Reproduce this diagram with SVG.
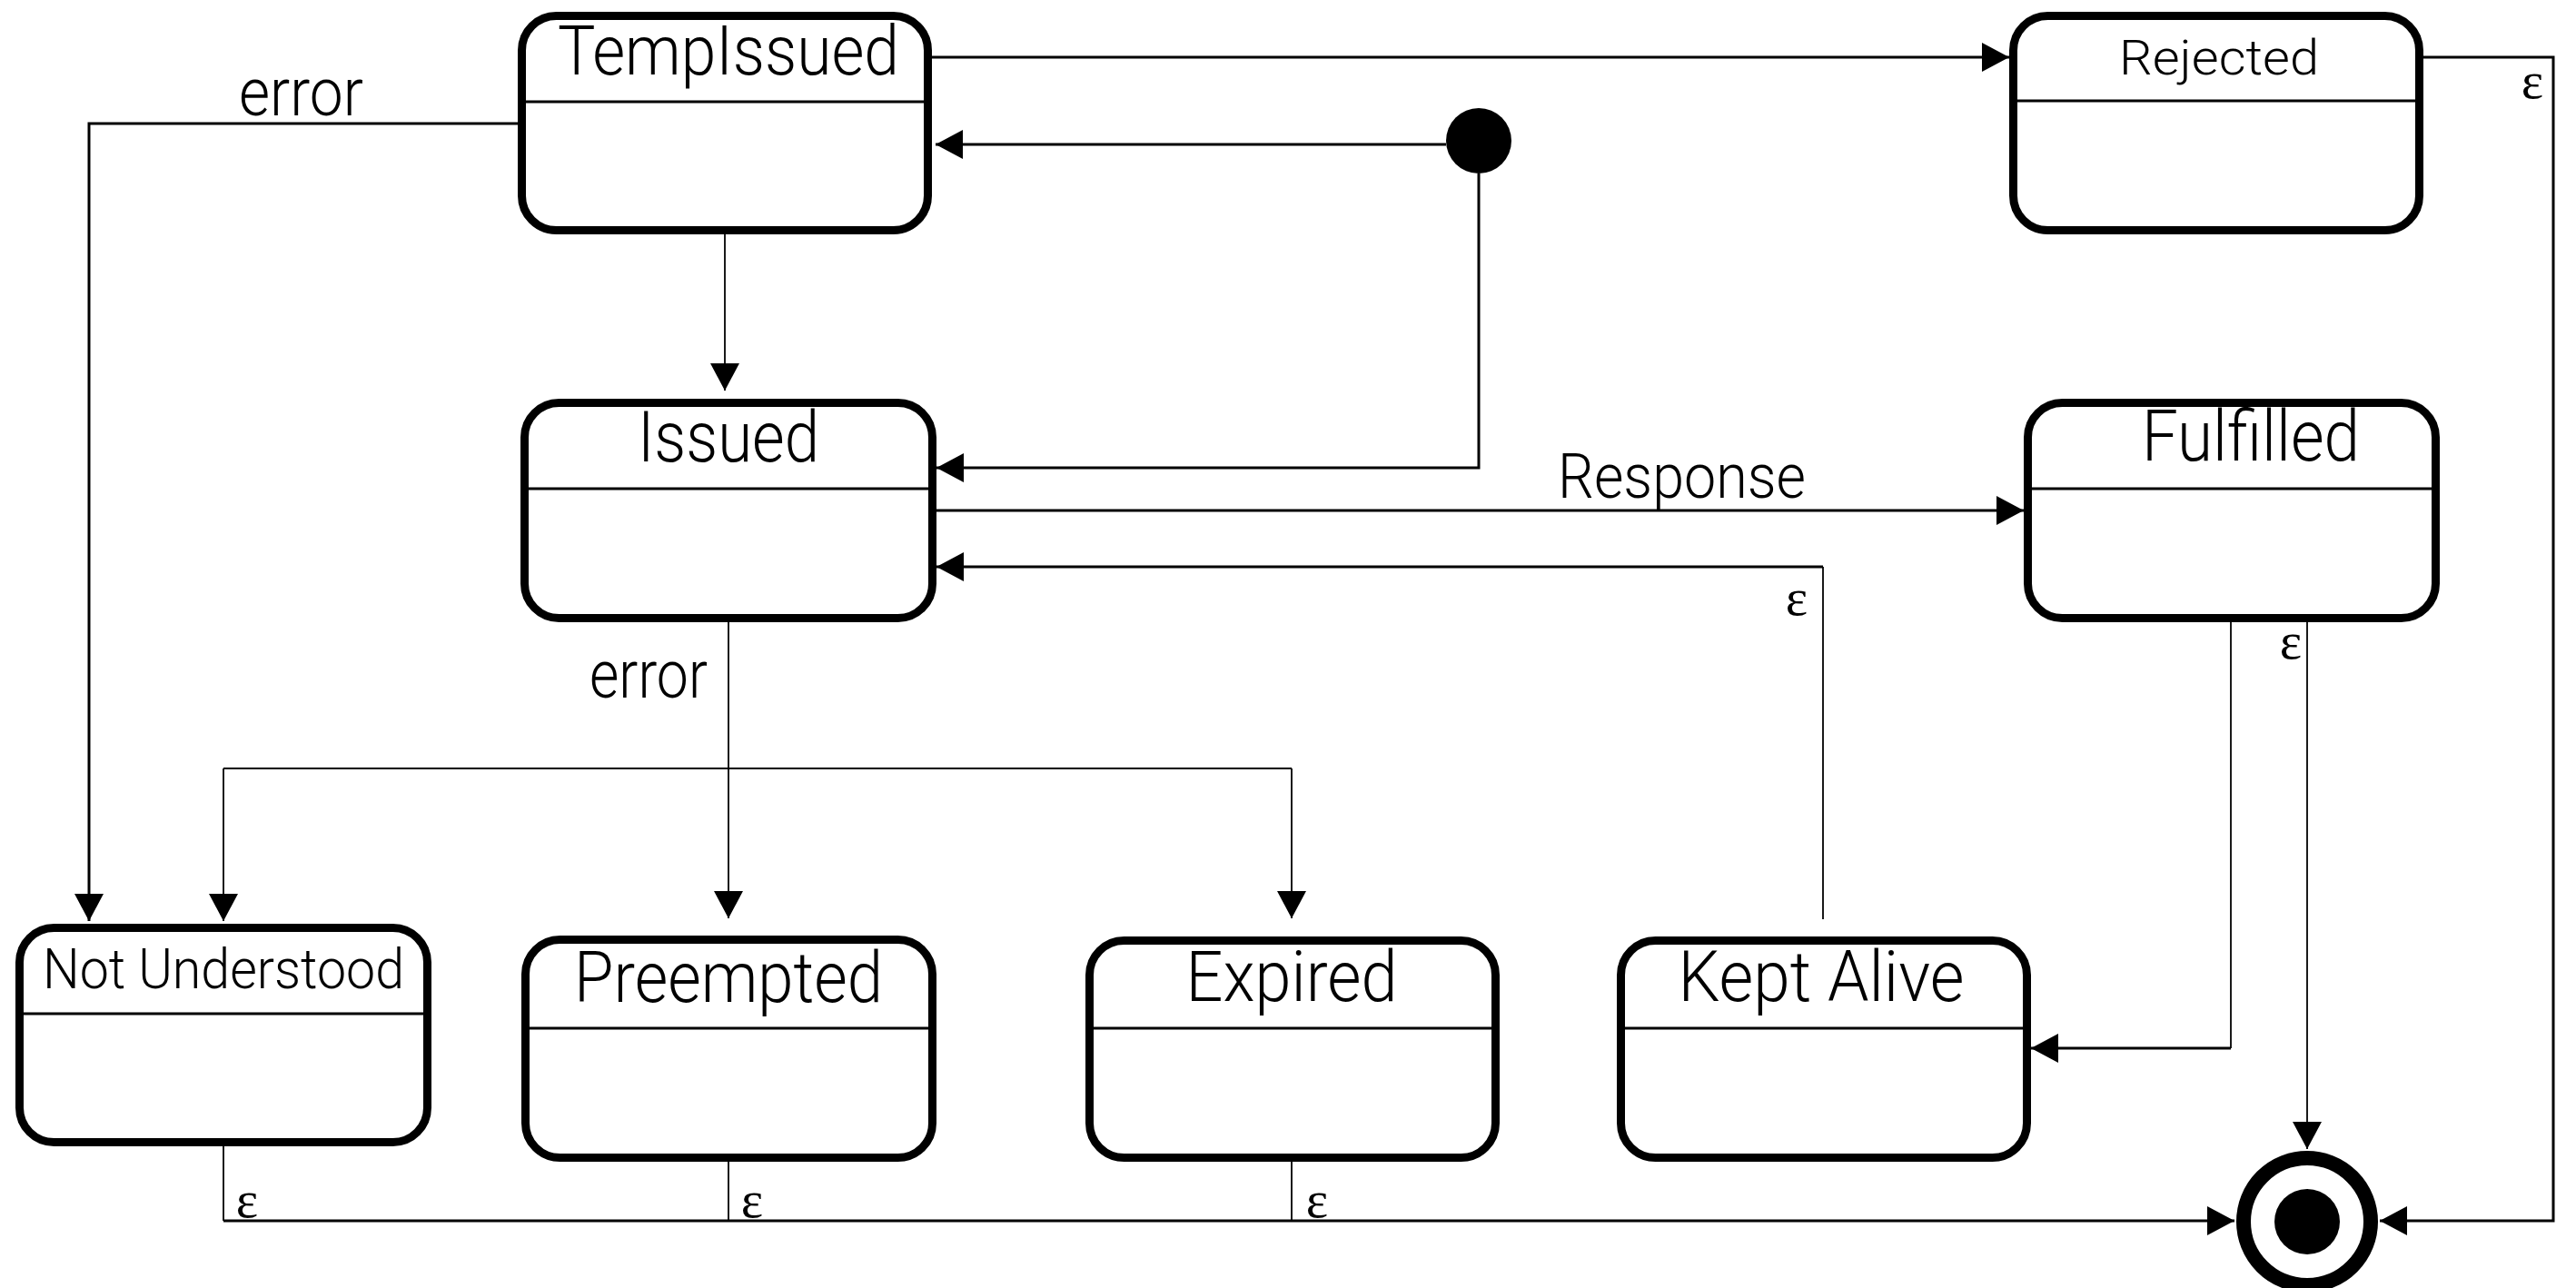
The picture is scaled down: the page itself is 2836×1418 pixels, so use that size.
<svg xmlns="http://www.w3.org/2000/svg" width="2836" height="1418" viewBox="0 0 2836 1418">
<style>
.box{fill:#fff;stroke:#000;stroke-width:9}
.div{stroke:#000;stroke-width:3}
.t{font-family:Roboto,"Liberation Sans",Arial,sans-serif;font-weight:300;text-anchor:middle;fill:#000}
.lbl{font-family:Roboto,"Liberation Sans",Arial,sans-serif;font-weight:300;fill:#000}
.eps{font-family:"Liberation Serif","Times New Roman",serif;font-size:58px;fill:#000;text-anchor:middle}
.thick{fill:none;stroke:#000;stroke-width:3}
.thin{fill:none;stroke:#000;stroke-width:1.8}
</style>
<defs>
<marker id="arr" markerUnits="userSpaceOnUse" markerWidth="30" markerHeight="32" refX="30" refY="16" orient="auto" viewBox="0 0 30 32">
<path d="M0,0 L30,16 L0,32 z" fill="#000"/>
</marker>
</defs>
<rect width="2836" height="1418" fill="#fff"/>

<g id="connectors">
<path class="thick" d="M1026,63 H2212" marker-end="url(#arr)"/>
<path class="thick" d="M1592,159 H1030" marker-end="url(#arr)"/>
<path class="thick" d="M1628,191 V515 H1031" marker-end="url(#arr)"/>
<path class="thin" d="M798,258 V430" marker-end="url(#arr)"/>
<path class="thick" d="M570,136 H98 V1014" marker-end="url(#arr)"/>
<text class="lbl" x="263" y="127" font-size="74" textLength="137" lengthAdjust="spacingAndGlyphs">error</text>
<path class="thick" d="M1031,562 H2228" marker-end="url(#arr)"/>
<text class="lbl" x="1715" y="548" font-size="68" textLength="273" lengthAdjust="spacingAndGlyphs">Response</text>
<path class="thin" d="M2007,1012 V624"/>
<path class="thick" d="M2007,624 H1031" marker-end="url(#arr)"/>
<text class="eps" x="1978" y="677">ε</text>
<path class="thin" d="M2540,685 V1265" marker-end="url(#arr)"/>
<text class="eps" x="2522" y="725">ε</text>
<path class="thin" d="M2456,685 V1154"/>
<path class="thick" d="M2456,1154 H2236" marker-end="url(#arr)"/>
<path class="thin" d="M802,685 V1011" marker-end="url(#arr)"/>
<path class="thin" d="M246,846 H1422"/>
<path class="thin" d="M246,846 V1014" marker-end="url(#arr)"/>
<path class="thin" d="M1422,846 V1011" marker-end="url(#arr)"/>
<text class="lbl" x="649" y="768" font-size="74" textLength="130" lengthAdjust="spacingAndGlyphs">error</text>
<path class="thin" d="M246,1262 V1344"/>
<path class="thin" d="M802,1279 V1344"/>
<path class="thin" d="M1422,1279 V1344"/>
<path class="thick" d="M246,1344 H2460" marker-end="url(#arr)"/>
<text class="eps" x="272" y="1340">ε</text>
<text class="eps" x="828" y="1340">ε</text>
<text class="eps" x="1450" y="1340">ε</text>
<path class="thick" d="M2668,63 H2811 V1344 H2620" marker-end="url(#arr)"/>
<text class="eps" x="2788" y="108">ε</text>
</g>

<g id="initial">
<circle cx="1628" cy="155" r="36" fill="#000"/>
</g>

<g id="final">
<circle cx="2540" cy="1345" r="70" fill="#fff" stroke="#000" stroke-width="16"/>
<circle cx="2540" cy="1345" r="36" fill="#000"/>
</g>

<g id="TempIssued">
<rect class="box" x="574.5" y="17.5" width="447" height="236" rx="38"/>
<line class="div" x1="575" y1="112" x2="1022" y2="112"/>
<text class="t" x="802" y="82" font-size="76" textLength="376" lengthAdjust="spacingAndGlyphs">TempIssued</text>
</g>

<g id="Rejected">
<rect class="box" x="2216.5" y="17.5" width="447" height="236" rx="38"/>
<line class="div" x1="2217" y1="111" x2="2664" y2="111"/>
<text class="t" x="2443" y="82" font-size="53" textLength="220" lengthAdjust="spacingAndGlyphs">Rejected</text>
</g>

<g id="Issued">
<rect class="box" x="577.5" y="443.5" width="449" height="237" rx="38"/>
<line class="div" x1="578" y1="538" x2="1027" y2="538"/>
<text class="t" x="802" y="508" font-size="78" textLength="200" lengthAdjust="spacingAndGlyphs">Issued</text>
</g>

<g id="Fulfilled">
<rect class="box" x="2232.5" y="443.5" width="449" height="237" rx="38"/>
<line class="div" x1="2233" y1="538" x2="2682" y2="538"/>
<text class="t" x="2478" y="507" font-size="78" textLength="240" lengthAdjust="spacingAndGlyphs">Fulfilled</text>
</g>

<g id="NotUnderstood">
<rect class="box" x="21.5" y="1021.5" width="449" height="236" rx="38"/>
<line class="div" x1="22" y1="1116" x2="470" y2="1116"/>
<text class="t" x="246" y="1088" font-size="62" textLength="398" lengthAdjust="spacingAndGlyphs">Not Understood</text>
</g>

<g id="Preempted">
<rect class="box" x="578.5" y="1034.5" width="448" height="240" rx="38"/>
<line class="div" x1="579" y1="1132" x2="1026" y2="1132"/>
<text class="t" x="802" y="1103" font-size="78" textLength="340" lengthAdjust="spacingAndGlyphs">Preempted</text>
</g>

<g id="Expired">
<rect class="box" x="1199.5" y="1035.5" width="447" height="239" rx="38"/>
<line class="div" x1="1200" y1="1132" x2="1646" y2="1132"/>
<text class="t" x="1422" y="1102" font-size="78" textLength="233" lengthAdjust="spacingAndGlyphs">Expired</text>
</g>

<g id="KeptAlive">
<rect class="box" x="1784.5" y="1035.5" width="447" height="239" rx="38"/>
<line class="div" x1="1785" y1="1132" x2="2231" y2="1132"/>
<text class="t" x="2005" y="1102" font-size="78" textLength="315" lengthAdjust="spacingAndGlyphs">Kept Alive</text>
</g>
</svg>
